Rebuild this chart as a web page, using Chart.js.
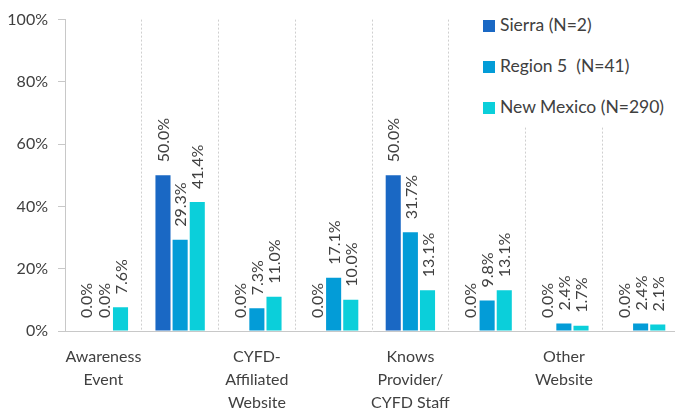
<!DOCTYPE html>
<html>
<head>
<meta charset="utf-8">
<script src="https://cdn.jsdelivr.net/npm/chart.js@4"></script>
<style>
    html, body { margin: 0; padding: 0; background: #fff; overflow: hidden; }
    #wrap { position: relative; width: 679px; height: 417px; }
    #legend { position: absolute; left: 472px; top: 0; width: 207px; height: 126px; background: #fff; font-family: Lato, sans-serif; font-size: 17.5px; color: #404040; }
    .lg-item { position: absolute; left: 11px; height: 20px; line-height: 20px; white-space: pre; }
    .lg-box { display: inline-block; width: 12px; height: 12px; margin-right: 5px; vertical-align: -1px; }
</style>
</head>
<body>
<div id="wrap">
    <canvas id="chart" width="679" height="417"></canvas>
    <div id="legend"></div>
</div>
<script>
// categories (only every other label is shown in the source chart)
const categories = [
    ["Awareness", "Event"],
    "",
    ["CYFD-", "Affiliated", "Website"],
    "",
    ["Knows", "Provider/", "CYFD Staff"],
    "",
    ["Other", "Website"],
    ""
];

const sierra = [0.0, 50.0, 0.0, 0.0, 50.0, 0.0, 0.0, 0.0];
const region5 = [0.0, 29.3, 7.3, 17.1, 31.7, 9.8, 2.4, 2.4];
const newMexico = [7.6, 41.4, 11.0, 10.0, 13.1, 13.1, 1.7, 2.1];

const seriesNames = ["Sierra (N=2)", "Region 5  (N=41)", "New Mexico (N=290)"];
const seriesColors = ["#1A68C4", "#039CD7", "#0BCFDA"];

const yTicks = [0, 20, 40, 60, 80, 100];

const textColor = "#404040";
const gridColor = "#CFCFCF";

// rotated value labels above every bar
const barLabels = {
    id: "barLabels",
    afterDatasetsDraw(chart) {
        const ctx = chart.ctx;
        ctx.save();
        ctx.fillStyle = textColor;
        ctx.font = "16px Lato, sans-serif";
        ctx.textAlign = "left";
        ctx.textBaseline = "middle";
        chart.data.datasets.forEach(function (ds, i) {
            const meta = chart.getDatasetMeta(i);
            meta.data.forEach(function (bar, j) {
                ctx.save();
                ctx.translate(bar.x + 1, bar.y - 13);
                ctx.rotate(-Math.PI / 2);
                ctx.fillText(ds.data[j].toFixed(1) + "%", 0, 0);
                ctx.restore();
            });
        });
        ctx.restore();
    }
};

const datasets = [sierra, region5, newMexico].map(function (vals, i) {
    return {
        label: seriesNames[i],
        data: vals,
        backgroundColor: seriesColors[i],
        categoryPercentage: 0.67,
        barPercentage: 0.88
    };
});

new Chart(document.getElementById("chart"), {
    type: "bar",
    data: { labels: categories, datasets: datasets },
    plugins: [barLabels],
    options: {
        responsive: false,
        animation: false,
        layout: { padding: { top: 14, left: 0, right: 0, bottom: 0 } },
        plugins: {
            legend: { display: false },
            tooltip: { enabled: false }
        },
        scales: {
            x: {
                afterFit: function (s) { s.height = 86; },
                grid: {
                    display: true,
                    offset: true,
                    color: gridColor,
                    drawTicks: false
                },
                border: { display: true, color: "#C8C8C8", dash: [2, 2] },
                ticks: {
                    autoSkip: false,
                    maxRotation: 0,
                    padding: 14,
                    color: textColor,
                    font: { family: "Lato", size: 16, lineHeight: 1.45 }
                }
            },
            y: {
                min: 0,
                max: 100,
                afterFit: function (s) { s.width = 65; },
                afterBuildTicks: function (s) { s.ticks = yTicks.map(function (v) { return { value: v }; }); },
                grid: {
                    drawOnChartArea: false,
                    drawTicks: true,
                    tickLength: 7,
                    color: "#C8C8C8"
                },
                border: { display: true, color: "#C8C8C8" },
                ticks: {
                    padding: 10,
                    color: textColor,
                    font: { family: "Lato", size: 16 },
                    callback: function (v) { return v + "%"; }
                }
            }
        }
    }
});

// legend drawn over the chart area, top right
const legendEl = document.getElementById("legend");
const legendTops = [15, 56, 97];
seriesNames.forEach(function (name, i) {
    const item = document.createElement("div");
    item.className = "lg-item";
    item.style.top = legendTops[i] + "px";
    const box = document.createElement("span");
    box.className = "lg-box";
    box.style.background = seriesColors[i];
    item.appendChild(box);
    item.appendChild(document.createTextNode(name));
    legendEl.appendChild(item);
});
</script>
</body>
</html>
